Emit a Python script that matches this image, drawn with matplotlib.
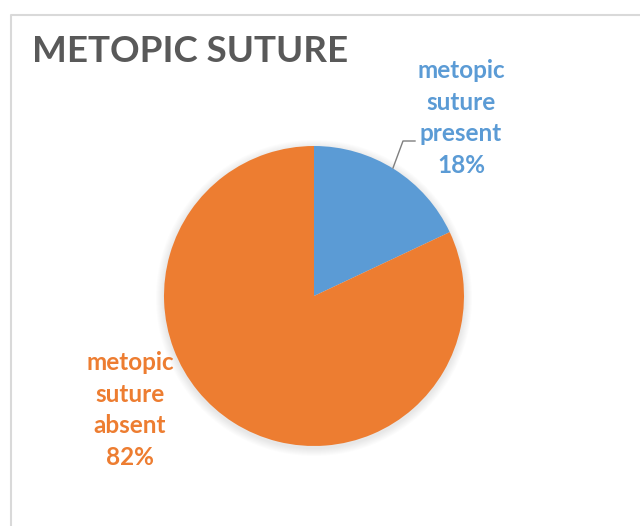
import matplotlib.pyplot as plt
from matplotlib.patches import Circle

# data
labels = ["metopic\nsuture\npresent", "metopic\nsuture\nabsent"]
shares = [18, 82]
colors = ["#5B9BD5", "#ED7D31"]
title = "METOPIC SUTURE"

plt.rcParams["font.family"] = ["Lato", "DejaVu Sans"]

W, H = 640, 526
fig = plt.figure(figsize=(W / 100, H / 100), dpi=100)
ax = fig.add_axes([0, 0, 1, 1])

# chart frame (only left/top edges visible in the crop)
ax.plot([11, 11, W + 5], [-5, H - 15, H - 15], color="#d9d9d9", lw=1.5)

cx, cy, r = 314, H - 296, 150

# soft shadow behind the pie
for i in range(8):
    ax.add_patch(Circle((cx, cy - 2), r + 1 + i, color="black", alpha=0.012, lw=0))

wedges, _ = ax.pie(shares, colors=colors, startangle=90, counterclock=False,
                   center=(cx, cy), radius=r, frame=True)
ax.set_xlim(0, W)
ax.set_ylim(0, H)
ax.axis("off")

# title
ax.text(32, H - 51, title, fontsize=26.5, fontweight="bold", color="#595959",
        ha="left", va="center")

# data labels
ax.text(461, H - 118, f"{labels[0]}\n{shares[0]}%", fontsize=17.5, fontweight="bold",
        color=colors[0], ha="center", va="center", linespacing=1.45)
ax.text(130, H - 410, f"{labels[1]}\n{shares[1]}%", fontsize=17.5, fontweight="bold",
        color=colors[1], ha="center", va="center", linespacing=1.45)

# leader line for the small slice
ax.plot([393, 403, 415], [H - 168, H - 141, H - 141], color="#7f7f7f", lw=1)

fig.savefig("out.png", dpi=100)
